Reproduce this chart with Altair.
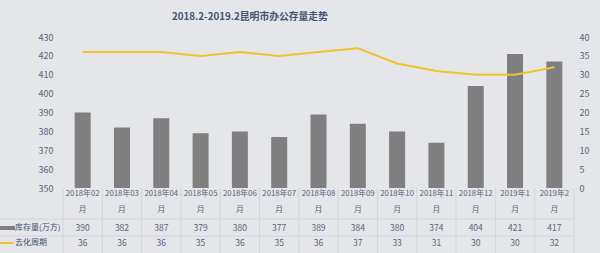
import altair as alt
import pandas as pd

months = ["2018年02月", "2018年03月", "2018年04月", "2018年05月", "2018年06月", "2018年07月",
          "2018年08月", "2018年09月", "2018年10月", "2018年11月", "2018年12月", "2019年1月", "2019年2月"]
stock = [390, 382, 387, 379, 380, 377, 389, 384, 380, 374, 404, 421, 417]
cycle = [36, 36, 36, 35, 36, 35, 36, 37, 33, 31, 30, 30, 32]
series_names = ["库存量(万方)", "去化周期"]
title_text = "2018.2-2019.2昆明市办公存量走势"

BG = "#e4e6ea"
BAR = "#7f7f7f"
LINE = "#f2c12e"
TXT = "#5b6478"
GRIDC = "#d2d5dc"
FONT = "Noto Sans CJK SC"

df = pd.DataFrame({
    "month": months,
    "line1": [m[:-1] for m in months],
    "line2": [m[-1] for m in months],
    "stock": stock,
    "cycle": cycle,
})

W, H = 511, 151
x = alt.X("month:N", sort=months, axis=None,
          scale=alt.Scale(paddingInner=0, paddingOuter=0))

base = alt.Chart(df)

bars = base.mark_bar(size=16, color=BAR).encode(
    x=x,
    y=alt.Y("stock:Q", scale=alt.Scale(domain=[350, 430], clamp=True),
            axis=alt.Axis(values=list(range(350, 431, 10)), domain=False, ticks=False,
                          grid=False, labelPadding=10, labelColor=TXT, labelFontSize=9,
                          labelFont=FONT, title=None)),
)

line = base.mark_line(color=LINE, strokeWidth=2).encode(
    x=x,
    y=alt.Y("cycle:Q", scale=alt.Scale(domain=[0, 40]),
            axis=alt.Axis(orient="right", values=list(range(0, 41, 5)), domain=False,
                          ticks=False, grid=False, labelPadding=5, labelColor=TXT,
                          labelFontSize=9, labelFont=FONT, title=None)),
)

txt_props = dict(fontSize=8.5, color=TXT, font=FONT, baseline="middle", align="center")
cat_props = dict(txt_props, fontSize=7.8)
row1 = base.mark_text(**cat_props).encode(x=x, y=alt.value(157), text="line1:N")
row2 = base.mark_text(**cat_props).encode(x=x, y=alt.value(173), text="line2:N")
row3 = base.mark_text(**txt_props).encode(x=x, y=alt.value(191), text="stock:Q")
row4 = base.mark_text(**txt_props).encode(x=x, y=alt.value(206), text="cycle:Q")

vrules = base.mark_rule(color=GRIDC, strokeWidth=1).encode(
    x=alt.X("month:N", sort=months, bandPosition=0, axis=None),
    y=alt.value(151), y2=alt.value(216),
)
last_df = pd.DataFrame({"month": [months[-1]]})
vrule_last = alt.Chart(last_df).mark_rule(color=GRIDC, strokeWidth=1).encode(
    x=alt.X("month:N", sort=months, bandPosition=1, axis=None),
    y=alt.value(151), y2=alt.value(216),
)

hdf = pd.DataFrame({"row": [0, 1]})
hrule1 = alt.Chart(hdf).transform_filter("datum.row == 0").mark_rule(color=GRIDC).encode(
    x=alt.value(-63), x2=alt.value(W), y=alt.value(182))
hrule2 = alt.Chart(hdf).transform_filter("datum.row == 1").mark_rule(color=GRIDC).encode(
    x=alt.value(-63), x2=alt.value(W), y=alt.value(199))

ldf = pd.DataFrame({"name": series_names})
leg_rect = alt.Chart(ldf).transform_filter(f"datum.name == '{series_names[0]}'").mark_rect(color=BAR).encode(
    x=alt.value(-63), x2=alt.value(-48), y=alt.value(189), y2=alt.value(193))
leg_line = alt.Chart(ldf).transform_filter(f"datum.name == '{series_names[1]}'").mark_rule(color=LINE, strokeWidth=2).encode(
    x=alt.value(-63), x2=alt.value(-49), y=alt.value(206))
leg_t1 = alt.Chart(ldf).transform_filter(f"datum.name == '{series_names[0]}'").mark_text(
    fontSize=8, color="#3f4d6a", font=FONT, align="left", baseline="middle").encode(
    x=alt.value(-48), y=alt.value(191), text="name:N")
leg_t2 = alt.Chart(ldf).transform_filter(f"datum.name == '{series_names[1]}'").mark_text(
    fontSize=8, color="#3f4d6a", font=FONT, align="left", baseline="middle").encode(
    x=alt.value(-48), y=alt.value(206), text="name:N")

chart = alt.layer(
    vrules, vrule_last, hrule1, hrule2, bars, line, row1, row2, row3, row4,
    leg_rect, leg_line, leg_t1, leg_t2,
).resolve_scale(y="independent").properties(
    width=W, height=H,
    autosize=alt.AutoSizeParams(type="none"),
    padding={"left": 63, "top": 37, "right": 26, "bottom": 65},
    background=BG,
    title=alt.TitleParams(title_text, anchor="start", frame="group", dx=109, offset=11,
                          fontSize=9.8, fontWeight="bold", color="#44546a", font=FONT),
).configure_view(stroke=None)

chart.save("out.html", embed_options={"renderer": "svg", "actions": False})
